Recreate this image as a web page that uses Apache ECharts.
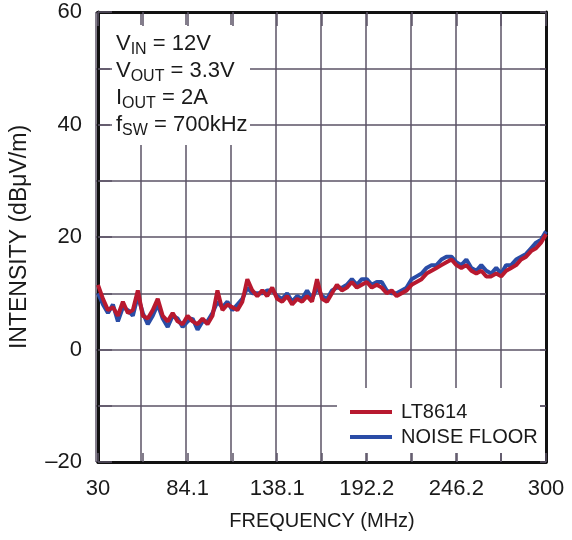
<!DOCTYPE html>
<html><head><meta charset="utf-8">
<script src="https://cdn.jsdelivr.net/npm/echarts@6/dist/echarts.min.js"></script>
<style>html,body{margin:0;padding:0;background:#fff}#c{width:572px;height:540px}</style>
</head><body><div id="c"></div>
<script>
var freq = [30,33,36,39,42,45,48,51,54,57,60,63,66,69,72,75,78,81,84,87,90,93,96,99,102,105,108,111,114,117,120,123,126,129,132,135,138,141,144,147,150,153,156,159,162,165,168,171,174,177,180,183,186,189,192,195,198,201,204,207,210,213,216,219,222,225,228,231,234,237,240,243,246,249,252,255,258,261,264,267,270,273,276,279,282,285,288,291,294,297,300];
var lt8614 = [11.5,9.0,7.0,7.5,6.0,8.5,6.5,7.0,10.5,6.0,5.5,7.0,9.0,6.0,5.0,6.5,5.0,4.5,6.0,5.0,4.5,5.5,4.5,6.0,10.5,7.0,8.0,7.5,7.0,8.5,12.5,10.5,9.5,10.5,9.5,11.0,9.0,8.5,9.5,8.0,9.0,8.5,9.5,8.5,12.5,9.0,8.5,10.0,11.5,10.5,11.0,12.0,11.0,11.5,12.0,11.0,11.5,11.0,10.0,10.5,9.5,10.0,10.5,11.5,12.0,12.5,13.5,14.0,14.5,15.0,15.5,16.0,15.0,14.5,15.0,14.0,13.5,14.0,13.0,13.0,13.5,13.0,14.0,14.5,15.0,16.0,16.5,17.5,18.0,19.0,20.5];
var noiseFloor = [10.0,8.0,6.5,8.0,5.0,7.5,7.0,6.0,9.5,6.5,4.5,6.0,8.0,5.5,4.0,6.0,5.5,4.0,5.0,5.5,3.5,5.0,5.0,6.5,8.5,7.5,8.5,7.0,8.0,9.0,11.0,10.0,10.0,10.0,10.5,10.5,9.5,9.0,10.0,8.5,9.5,9.0,10.5,9.0,11.0,9.5,9.0,10.5,11.0,11.0,11.5,12.5,11.5,12.5,12.5,11.5,12.0,12.0,10.5,10.0,10.0,10.5,11.0,12.5,13.0,13.5,14.5,15.0,15.0,16.0,16.5,16.5,15.5,15.0,16.0,14.5,14.0,15.0,14.0,13.5,14.5,13.5,15.0,15.0,16.0,16.5,17.0,18.0,19.0,19.5,21.0];
var xTickLabels = ['30','84.1','138.1','192.2','246.2','300'];
var yTickLabels = ['\u201320','0','20','40','60'];
var seriesNames = ['LT8614','NOISE FLOOR'];
var colors = ['#b8192f','#2a4ca6'];

var FONT = '"Liberation Sans",Arial,sans-serif';
var GRIDC = '#5b5366';
var chart = echarts.init(document.getElementById('c'));
var g = {left:96, right:26, top:12, bottom:78};
function toPairs(arr){ return freq.map(function(f,i){ return [f, arr[i]]; }); }
var tickStyle = function(len){ return {show:true, inside:true, length:len, lineStyle:{color:GRIDC, width:1.5}}; };
var option = {
  animation:false,
  backgroundColor:'#fff',
  grid:[Object.assign({},g), Object.assign({},g)],
  xAxis:[
    {type:'value', gridIndex:0, min:30, max:300, interval:27, z:0,
     axisLine:{show:false}, axisTick:{show:false}, axisLabel:{show:false},
     splitLine:{show:true, lineStyle:{color:GRIDC, width:1.5}}},
    {type:'value', gridIndex:1, position:'bottom', min:30, max:300, interval:27, z:3,
     axisLine:{show:true, onZero:false, lineStyle:{color:'#111', width:3}},
     axisTick:tickStyle(9), splitLine:{show:false},
     axisLabel:{show:true, margin:16, color:'#1a1a1a', fontSize:22, fontFamily:FONT,
       formatter:function(v,i){ return i%2===0 ? xTickLabels[i/2] : ''; }},
     name:'FREQUENCY (MHz)', nameLocation:'middle', nameGap:49,
     nameTextStyle:{color:'#1a1a1a', fontSize:20, fontFamily:FONT}},
    {type:'value', gridIndex:1, position:'top', min:30, max:300, interval:27, z:3,
     axisLine:{show:true, onZero:false, lineStyle:{color:'#111', width:3}},
     axisTick:tickStyle(14), axisLabel:{show:false}, splitLine:{show:false}}
  ],
  yAxis:[
    {type:'value', gridIndex:0, min:-20, max:60, interval:10, z:0,
     axisLine:{show:false}, axisTick:{show:false}, axisLabel:{show:false},
     splitLine:{show:true, lineStyle:{color:GRIDC, width:1.5}}},
    {type:'value', gridIndex:1, position:'left', min:-20, max:60, interval:10, z:3,
     axisLine:{show:true, onZero:false, lineStyle:{color:'#111', width:3}},
     axisTick:tickStyle(14), splitLine:{show:false},
     axisLabel:{show:true, margin:16, color:'#1a1a1a', fontSize:22, fontFamily:FONT,
       formatter:function(v,i){ return i%2===0 ? yTickLabels[i/2] : ''; }},
     name:'INTENSITY (dB\u03bcV/m)', nameLocation:'middle', nameGap:67,
     nameTextStyle:{color:'#1a1a1a', fontSize:23, fontFamily:FONT}},
    {type:'value', gridIndex:1, position:'right', min:-20, max:60, interval:10, z:3,
     axisLine:{show:true, onZero:false, lineStyle:{color:'#111', width:3}},
     axisTick:tickStyle(6), axisLabel:{show:false}, splitLine:{show:false}}
  ],
  legend:{
    left:345, top:397, orient:'vertical', itemGap:5, itemWidth:42, itemHeight:4,
    icon:'rect', selectedMode:false,
    textStyle:{color:'#1a1a1a', fontSize:20, fontFamily:FONT, padding:[0,0,0,4]},
    data:seriesNames
  },
  graphic:[
    {type:'rect', z:1, silent:true, shape:{x:110, y:25, width:140, height:120}, style:{fill:'#fff'}},
    {type:'rect', z:1, silent:true, shape:{x:337, y:388, width:203, height:65}, style:{fill:'#fff'}},
    {type:'text', z:5, left:116, top:30, silent:true,
     style:{
       text:'{a|V}{s|IN}{a| = 12V}\n{a|V}{s|OUT}{a| = 3.3V}\n{a|I}{s|OUT}{a| = 2A}\n{a|f}{s|SW}{a| = 700kHz}',
       rich:{
         a:{fontSize:22, fontFamily:FONT, fill:'#1a1a1a', lineHeight:27, verticalAlign:'middle'},
         s:{fontSize:16, fontFamily:FONT, fill:'#1a1a1a', lineHeight:27, verticalAlign:'middle', padding:[12,0,0,0]}
       }
     }}
  ],
  series:[
    {name:seriesNames[1], type:'line', xAxisIndex:1, yAxisIndex:1, data:toPairs(noiseFloor),
     showSymbol:false, symbol:'none', z:4, lineStyle:{color:colors[1], width:4}, itemStyle:{color:colors[1]}},
    {name:seriesNames[0], type:'line', xAxisIndex:1, yAxisIndex:1, data:toPairs(lt8614),
     showSymbol:false, symbol:'none', z:4, lineStyle:{color:colors[0], width:4}, itemStyle:{color:colors[0]}}
  ]
};
chart.setOption(option);
</script></body></html>
